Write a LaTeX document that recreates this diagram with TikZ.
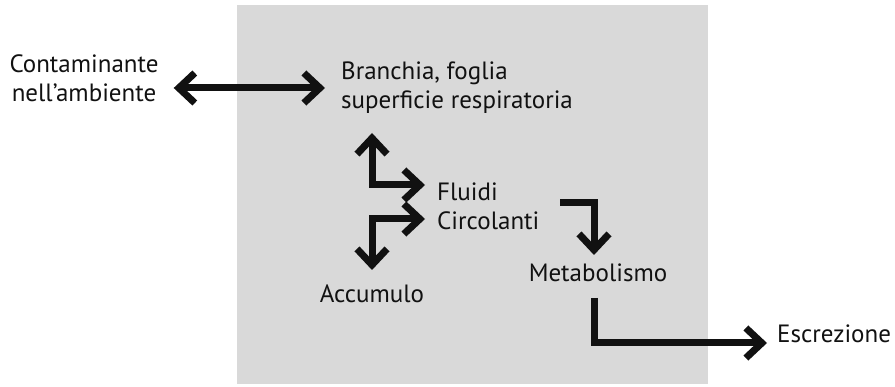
\documentclass[tikz,border=0pt]{standalone}
\usepackage{fontspec}
\setmainfont{PT Sans}
\usetikzlibrary{arrows.meta,positioning}
\newcommand{\definitions}{%
  % colour of the organism
  \definecolor{colOrg}{RGB}{217,217,217}
  % colour of arrows and texts
  \definecolor{colInk}{RGB}{17,17,17}

  % corners of the organism
  \coordinate (orgSW) at (237, 384);
  \coordinate (orgNE) at (708, 5);

  % free ends of the connectors
  \coordinate (gillB) at (372, 133);
  \coordinate (fluidA) at (425, 185);
  \coordinate (fluidB) at (425, 219);
  \coordinate (accT) at (372, 270);
  \coordinate (fluidR) at (560, 203);
  \coordinate (metabT) at (594, 255);
  \coordinate (metabB) at (594, 298);
}
\tikzset{
  txt/.style={font=\fontsize{25}{29}\selectfont, text=colInk, inner sep=0pt},
  flow/.style={draw=colInk, line width=7pt, line join=miter},
  fwd/.style={-{Straight Barb[length=16pt,width=30pt,line join=miter,line cap=butt]}},
  twoway/.style={{Straight Barb[length=16pt,width=30pt,line join=miter,line cap=butt]}-{Straight Barb[length=16pt,width=30pt,line join=miter,line cap=butt]}},
}
\begin{document}
\begin{tikzpicture}[x=1pt, y=-1pt]

  % define colours and points
  \definitions
  \useasboundingbox (0,0) rectangle (895,387);

  % organism in the back
  \fill[colOrg] (orgSW) rectangle (orgNE);

  % compartments
  \node[txt, align=center] (env) at (84, 78) {Contaminante\\nell’ambiente};
  \node[txt, align=left, anchor=west] (gill) at (341, 88) {Branchia, foglia\\superficie respiratoria};
  \node[txt, align=left, anchor=west] (fluid) at (437, 206) {Fluidi\\Circolanti};
  \node[txt, below=15pt of accT] (acc) {Accumulo};
  \node[txt] (metab) at (598, 273) {Metabolismo};
  \node[txt, anchor=base west] (excr) at (777, 343) {Escrezione};

  % exchanges between compartments
  \draw[flow, twoway] ([xshift=15pt]env.east |- gill.west) -- ([xshift=-16pt]gill.west);
  \draw[flow, twoway] (gillB) |- (fluidA);
  \draw[flow, twoway] (fluidB) -| (accT);
  \draw[flow, fwd] (fluidR) -| (metabT);
  \draw[flow, fwd] (metabB) |- ([xshift=-10pt]excr.base west);

\end{tikzpicture}
\end{document}
